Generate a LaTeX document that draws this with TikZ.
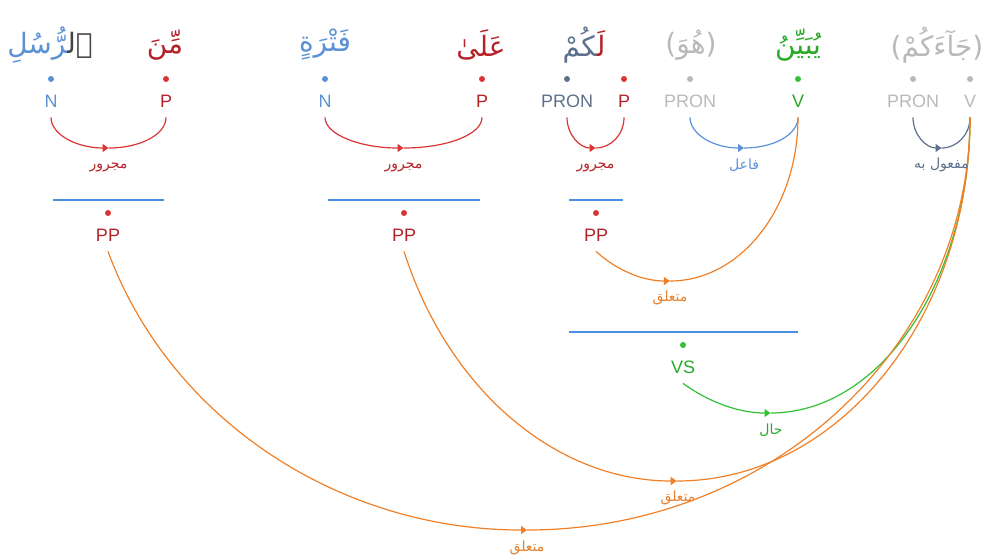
\documentclass[tikz,border=0pt]{standalone}
\usepackage{xcolor}
\usepackage{fontspec}
\setmainfont{Liberation Sans}
\newfontfamily\arabicfont[Script=Arabic]{DejaVu Sans}
\newfontfamily\parenfont{DejaVu Sans}
\TeXXeTstate=1
\usetikzlibrary{arrows.meta, positioning}

\definecolor{cRed}{RGB}{220,52,52}
\definecolor{cRedT}{RGB}{180,34,40}
\definecolor{cBlue}{RGB}{92,145,214}
\definecolor{cLine}{RGB}{74,144,226}
\definecolor{cSlate}{RGB}{93,113,140}
\definecolor{cHid}{RGB}{185,185,185}
\definecolor{cGreen}{RGB}{52,192,52}
\definecolor{cGreenT}{RGB}{40,170,40}
\definecolor{cOrange}{RGB}{240,128,40}
\definecolor{cOrangeT}{RGB}{228,128,48}
\definecolor{cDet}{RGB}{68,68,68}

\newcommand\arb[1]{\arabicfont\beginR #1\endR}
\newcommand\hidden[1]{{\parenfont(}\arb{#1}{\parenfont)}}

\begin{document}
\begin{tikzpicture}[x=0.5pt,y=-0.5pt,
    word node/.style={font=\arabicfont\fontsize{14}{16}\selectfont, inner sep=0pt},
    tag node/.style={font=\fontsize{9}{10}\selectfont, inner sep=0pt, minimum height=16pt},
    dot node/.style={circle, inner sep=0pt, minimum size=3pt},
    rel label/.style={font=\fontsize{7}{9}\selectfont, inner sep=0pt},
    dep/.style={line width=0.6pt},
    tip/.style={-{Triangle[length=3pt,width=4pt]}},
    phrase line/.style={cLine, line width=0.75pt}]

    \useasboundingbox (0,0) rectangle (984,559);

    % words
    \node[word node] (w1) at (50,45) {{\color{cBlue}‍رُّسُلِ}{\color{cDet}ٱل‍}};
    \node[word node, text=cRedT] (w2) at (165,45) {\arb{مِّنَ}};
    \node[word node, text=cBlue] (w3) at (325,45) {\arb{فَتْرَةٍ}};
    \node[word node, text=cRedT] (w4) at (481,45) {\arb{عَلَىٰ}};
    \node[word node] (w5) at (584,45) {{\color{cSlate}‍كُمْ}{\color{cRedT}لَ‍}};
    \node[word node, text=cHid] (w6) at (691,45) {\hidden{هُوَ}};
    \node[word node, text=cGreenT] (w7) at (798,45) {\arb{يُبَيِّنُ}};
    \node[word node, text=cHid] (w8) at (937,45) {\hidden{جَآءَكُمْ}};

    % tags
    \node[dot node, fill=cBlue] (d1) at (51,79) {};
    \node[tag node, text=cBlue] (t1) at (51,101) {N};
    \node[dot node, fill=cRed] (d2) at (166,79) {};
    \node[tag node, text=cRedT] (t2) at (166,101) {P};
    \node[dot node, fill=cBlue] (d3) at (325,79) {};
    \node[tag node, text=cBlue] (t3) at (325,101) {N};
    \node[dot node, fill=cRed] (d4) at (482,79) {};
    \node[tag node, text=cRedT] (t4) at (482,101) {P};
    \node[dot node, fill=cSlate] (d5) at (567,79) {};
    \node[tag node, text=cSlate] (t5) at (567,101) {PRON};
    \node[dot node, fill=cRed] (d6) at (624,79) {};
    \node[tag node, text=cRedT] (t6) at (624,101) {P};
    \node[dot node, fill=cHid] (d7) at (690,79) {};
    \node[tag node, text=cHid] (t7) at (690,101) {PRON};
    \node[dot node, fill=cGreen] (d8) at (798,79) {};
    \node[tag node, text=cGreenT] (t8) at (798,101) {V};
    \node[dot node, fill=cHid] (d9) at (913,79) {};
    \node[tag node, text=cHid] (t9) at (913,101) {PRON};
    \node[dot node, fill=cHid] (d10) at (970,79) {};
    \node[tag node, text=cHid] (t10) at (970,101) {V};

    % phrases
    \draw[phrase line] (53,200) -- (164,200);
    \draw[phrase line] (328,200) -- (480,200);
    \draw[phrase line] (569,200) -- (623,200);
    \draw[phrase line] (569,332) -- (798,332);
    \node[dot node, fill=cRed] (e1) at (108,213) {};
    \node[tag node, text=cRedT] (pp1) at (108,235) {PP};
    \node[dot node, fill=cRed] (e2) at (404,213) {};
    \node[tag node, text=cRedT] (pp2) at (404,235) {PP};
    \node[dot node, fill=cRed] (e3) at (596,213) {};
    \node[tag node, text=cRedT] (pp3) at (596,235) {PP};
    \node[dot node, fill=cGreen] (e4) at (683,345) {};
    \node[tag node, text=cGreenT] (vs) at (683,367) {VS};

    % lowest points of the arcs
    \coordinate (b1) at (108.5,148);
    \coordinate (b2) at (403.5,148);
    \coordinate (b3) at (595.5,148);
    \coordinate (b4) at (744,148);
    \coordinate (b5) at (941.5,148);
    \coordinate (b6) at (669.9,281);
    \coordinate (b7) at (770.5,413);
    \coordinate (b8) at (676.7,481);
    \coordinate (b9) at (527,530);

    % short arcs
    \draw[dep, cRed, tip] (t1.south) .. controls +(0,17.1) and +(-31.8,0) .. (b1);
    \draw[dep, cRed] (b1) .. controls +(31.8,0) and +(0,17.1) .. (t2.south);
    \draw[dep, cRed, tip] (t3.south) .. controls +(0,17.1) and +(-43.4,0) .. (b2);
    \draw[dep, cRed] (b2) .. controls +(43.4,0) and +(0,17.1) .. (t4.south);
    \draw[dep, cRed, tip] (t5.south) .. controls +(0,17.1) and +(-15.7,0) .. (b3);
    \draw[dep, cRed] (b3) .. controls +(15.7,0) and +(0,17.1) .. (t6.south);
    \draw[dep, cBlue, tip] (t7.south) .. controls +(0,17.1) and +(-29.8,0) .. (b4);
    \draw[dep, cBlue] (b4) .. controls +(29.8,0) and +(0,17.1) .. (t8.south);
    \draw[dep, cSlate, tip] (t9.south) .. controls +(0,17.1) and +(-15.7,0) .. (b5);
    \draw[dep, cSlate] (b5) .. controls +(15.7,0) and +(0,17.1) .. (t10.south);

    % long arcs
    \draw[dep, cOrange, tip] (pp3.south) .. controls +(21.6,19.6) and +(-26.5,0) .. (b6);
    \draw[dep, cOrange] (b6) .. controls +(70.8,0) and +(0,90.6) .. (t8.south);
    \draw[dep, cGreen, tip] (vs.south) .. controls +(27.3,19.7) and +(-30.3,0) .. (b7);
    \draw[dep, cGreen] (b7) .. controls +(110.2,0) and +(0,163.5) .. (t10.south);
    \draw[dep, cOrange, tip] (pp2.south) .. controls +(44.3,138.8) and +(-120.3,0) .. (b8);
    \draw[dep, cOrange] (b8) .. controls +(162,0) and +(0,201) .. (t10.south);
    \draw[dep, cOrange, tip] (pp1.south) .. controls +(61.4,166.9) and +(-189.3,0) .. (b9);
    \draw[dep, cOrange] (b9) .. controls +(244.7,0) and +(0,228.1) .. (t10.south);

    % relation labels
    \node[rel label, text=cRedT] (l1) at (108.5,167) {\arb{مجرور}};
    \node[rel label, text=cRedT] (l2) at (403.5,167) {\arb{مجرور}};
    \node[rel label, text=cRedT] (l3) at (595.5,167) {\arb{مجرور}};
    \node[rel label, text=cBlue] (l4) at (744,165) {\arb{فاعل}};
    \node[rel label, text=cSlate] (l5) at (941.5,165) {\arb{مفعول به}};
    \node[rel label, text=cOrangeT] (l6) at (670,298) {\arb{متعلق}};
    \node[rel label, text=cGreenT] (l7) at (771,430) {\arb{حال}};
    \node[rel label, text=cOrangeT] (l8) at (678,498) {\arb{متعلق}};
    \node[rel label, text=cOrangeT] (l9) at (527,548) {\arb{متعلق}};
\end{tikzpicture}
\end{document}
